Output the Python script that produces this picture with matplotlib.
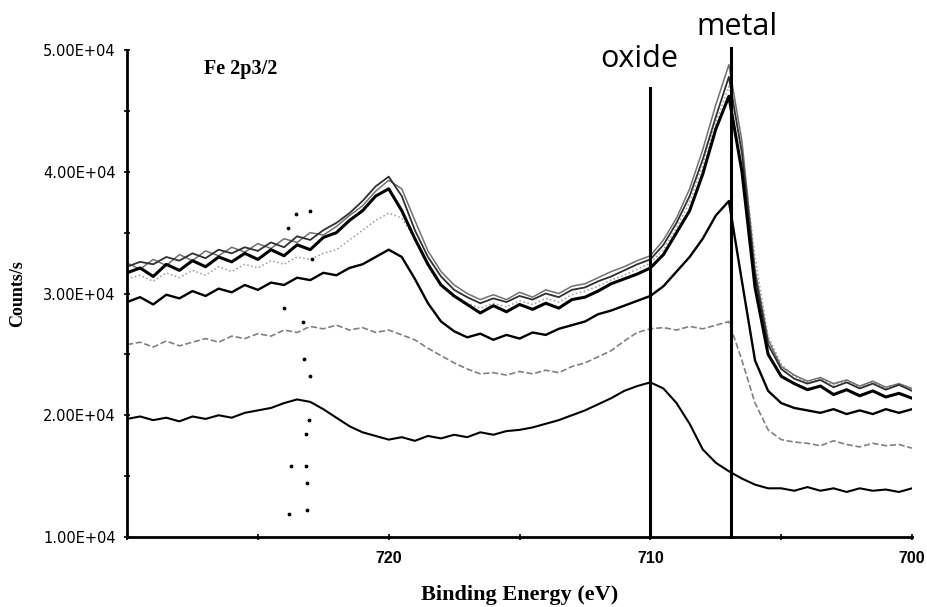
import numpy as np
import matplotlib
matplotlib.use("Agg")
import matplotlib.pyplot as plt
from matplotlib.ticker import FuncFormatter, MultipleLocator, FixedLocator

# binding energy grid (eV), 730 -> 700 in 0.5 eV steps
energy = np.arange(730.0, 699.99, -0.5)

# counts/s in units of 1e4
scan_a = [3.17, 3.21, 3.14, 3.24, 3.19, 3.27, 3.22, 3.30, 3.26, 3.33,
          3.28, 3.36, 3.31, 3.40, 3.36, 3.46, 3.50, 3.60, 3.68, 3.80,
          3.86, 3.68, 3.45, 3.24, 3.07, 2.98, 2.91, 2.84, 2.90, 2.85,
          2.91, 2.87, 2.92, 2.88, 2.95, 2.97, 3.02, 3.08, 3.12, 3.16,
          3.21, 3.32, 3.50, 3.68, 3.98, 4.35, 4.62, 4.00, 3.05, 2.50,
          2.32, 2.26, 2.21, 2.24, 2.17, 2.21, 2.16, 2.20, 2.15, 2.18, 2.14]
scan_b = [3.22, 3.26, 3.24, 3.30, 3.27, 3.33, 3.29, 3.36, 3.33, 3.38,
          3.35, 3.42, 3.38, 3.47, 3.44, 3.52, 3.58, 3.66, 3.76, 3.88,
          3.96, 3.80, 3.52, 3.30, 3.14, 3.03, 2.97, 2.92, 2.96, 2.93,
          2.98, 2.95, 3.00, 2.97, 3.03, 3.05, 3.10, 3.14, 3.19, 3.24,
          3.28, 3.40, 3.58, 3.80, 4.10, 4.45, 4.78, 4.15, 3.15, 2.58,
          2.38, 2.30, 2.26, 2.29, 2.23, 2.27, 2.22, 2.26, 2.21, 2.25, 2.20]
scan_c = [3.25, 3.20, 3.28, 3.23, 3.32, 3.27, 3.35, 3.31, 3.38, 3.34,
          3.41, 3.37, 3.45, 3.42, 3.50, 3.48, 3.55, 3.64, 3.72, 3.84,
          3.93, 3.86, 3.60, 3.35, 3.18, 3.07, 3.00, 2.95, 2.99, 2.95,
          3.01, 2.97, 3.03, 3.00, 3.06, 3.08, 3.13, 3.18, 3.22, 3.27,
          3.31, 3.44, 3.62, 3.86, 4.18, 4.55, 4.88, 4.25, 3.20, 2.62,
          2.40, 2.33, 2.28, 2.31, 2.26, 2.29, 2.24, 2.28, 2.23, 2.26, 2.22]
scan_d = [3.12, 3.15, 3.10, 3.17, 3.13, 3.19, 3.15, 3.22, 3.18, 3.24,
          3.21, 3.27, 3.24, 3.30, 3.28, 3.33, 3.36, 3.44, 3.52, 3.60,
          3.66, 3.62, 3.45, 3.22, 3.06, 2.97, 2.92, 2.88, 2.92, 2.89,
          2.94, 2.91, 2.96, 2.93, 2.99, 3.02, 3.06, 3.11, 3.15, 3.20,
          3.25, 3.36, 3.54, 3.75, 4.05, 4.40, 4.70, 4.20, 3.30, 2.65,
          2.42, 2.32, 2.27, 2.30, 2.25, 2.28, 2.23, 2.27, 2.22, 2.25, 2.21]
scan_e = [2.93, 2.97, 2.91, 2.99, 2.96, 3.02, 2.98, 3.04, 3.01, 3.07,
          3.03, 3.09, 3.07, 3.13, 3.11, 3.17, 3.15, 3.21, 3.24, 3.30,
          3.36, 3.30, 3.12, 2.92, 2.77, 2.69, 2.64, 2.67, 2.62, 2.66,
          2.63, 2.68, 2.66, 2.71, 2.74, 2.77, 2.83, 2.86, 2.90, 2.94,
          2.98, 3.06, 3.18, 3.30, 3.45, 3.64, 3.76, 3.10, 2.45, 2.20,
          2.10, 2.06, 2.04, 2.02, 2.05, 2.01, 2.04, 2.01, 2.05, 2.02, 2.05]
scan_f = [2.58, 2.60, 2.56, 2.61, 2.57, 2.60, 2.63, 2.60, 2.65, 2.63,
          2.67, 2.65, 2.70, 2.68, 2.73, 2.71, 2.74, 2.70, 2.72, 2.68,
          2.70, 2.66, 2.62, 2.55, 2.49, 2.43, 2.38, 2.34, 2.35, 2.33,
          2.36, 2.34, 2.37, 2.35, 2.40, 2.43, 2.48, 2.53, 2.61, 2.68,
          2.71, 2.72, 2.70, 2.73, 2.71, 2.74, 2.77, 2.45, 2.10, 1.88,
          1.80, 1.78, 1.77, 1.75, 1.79, 1.76, 1.74, 1.77, 1.75, 1.76, 1.73]
scan_g = [1.97, 1.99, 1.96, 1.98, 1.95, 1.99, 1.97, 2.00, 1.98, 2.02,
          2.04, 2.06, 2.10, 2.13, 2.11, 2.05, 1.98, 1.91, 1.86, 1.83,
          1.80, 1.82, 1.79, 1.83, 1.81, 1.84, 1.82, 1.86, 1.84, 1.87,
          1.88, 1.90, 1.93, 1.96, 2.00, 2.04, 2.09, 2.14, 2.20, 2.24,
          2.27, 2.22, 2.10, 1.93, 1.72, 1.61, 1.54, 1.48, 1.43, 1.40,
          1.40, 1.38, 1.41, 1.38, 1.40, 1.37, 1.40, 1.38, 1.39, 1.37, 1.40]

# stray points around 723 eV
dot_x = [723.56, 723.02, 723.85, 722.93, 724.0, 723.26, 723.22, 722.99,
         723.05, 723.17, 723.75, 723.17, 723.14, 723.81, 723.11]
dot_y = [3.65, 3.68, 3.54, 3.28, 2.88, 2.77, 2.46, 2.32,
         1.96, 1.85, 1.58, 1.58, 1.44, 1.19, 1.22]

x_ticks = [720, 710, 700]
oxide_pos = 710.0
metal_pos = 706.9

fig = plt.figure(figsize=(9.28, 6.07), dpi=100)
ax = fig.add_axes([0.1369, 0.1153, 0.8459, 0.8023])

scans = [
    (scan_d, "#9a9a9a", 1.1, ":"),
    (scan_c, "#707070", 1.1, "-"),
    (scan_b, "#303030", 1.3, "-"),
    (scan_a, "black", 2.2, "-"),
    (scan_e, "black", 1.7, "-"),
    (scan_f, "#808080", 1.2, "--"),
    (scan_g, "black", 1.5, "-"),
]
for vals, col, lw, ls in scans:
    ax.plot(energy, np.array(vals) * 1e4, color=col, lw=lw, ls=ls)

ax.scatter(dot_x, np.array(dot_y) * 1e4, s=3, color="black", zorder=3)

# reference positions for oxide and metal
ax.plot([oxide_pos, oxide_pos], [1e4, 4.69e4], color="black", lw=2.2, clip_on=False)
ax.plot([metal_pos, metal_pos], [1e4, 5.02e4], color="black", lw=2.2, clip_on=False)
ax.text(710.42, 4.93e4, "oxide", fontsize=22, family="Open Sans",
        ha="center", va="center")
ax.text(706.68, 5.19e4, "metal", fontsize=22, family="Open Sans",
        ha="center", va="center", clip_on=False)

ax.text(725.65, 4.84e4, "Fe 2p3/2", fontsize=14.5, family="Liberation Serif",
        fontweight="bold", ha="center", va="center")

ax.set_xlim(730, 700)
ax.set_ylim(1e4, 5e4)
ax.xaxis.set_major_locator(FixedLocator(x_ticks))
ax.xaxis.set_minor_locator(MultipleLocator(5))
ax.yaxis.set_major_locator(MultipleLocator(1e4))
ax.yaxis.set_minor_locator(MultipleLocator(5e3))
ax.xaxis.set_major_formatter(FuncFormatter(lambda v, p: f"{v:.0f}"))
ax.yaxis.set_major_formatter(FuncFormatter(lambda v, p: f"{v:.2E}"))

for s in ["top", "right"]:
    ax.spines[s].set_visible(False)
for s in ["left", "bottom"]:
    ax.spines[s].set_linewidth(2.0)

ax.tick_params(axis="both", which="both", direction="inout", length=4, width=1.2)
ax.tick_params(axis="x", pad=8)
ax.tick_params(axis="y", pad=6)
for lab in ax.get_xticklabels():
    lab.set_fontfamily("Liberation Sans")
    lab.set_fontweight("bold")
    lab.set_fontsize(11.5)
for lab in ax.get_yticklabels():
    lab.set_fontfamily("Liberation Sans Narrow")
    lab.set_fontsize(10.5)

ax.set_xlabel("Binding Energy (eV)", fontsize=16, family="Liberation Serif",
              fontweight="bold", labelpad=14)
ax.set_ylabel("Counts/s", fontsize=13, family="Liberation Serif",
              fontweight="bold", labelpad=12)

fig.savefig("out.png", dpi=100)
